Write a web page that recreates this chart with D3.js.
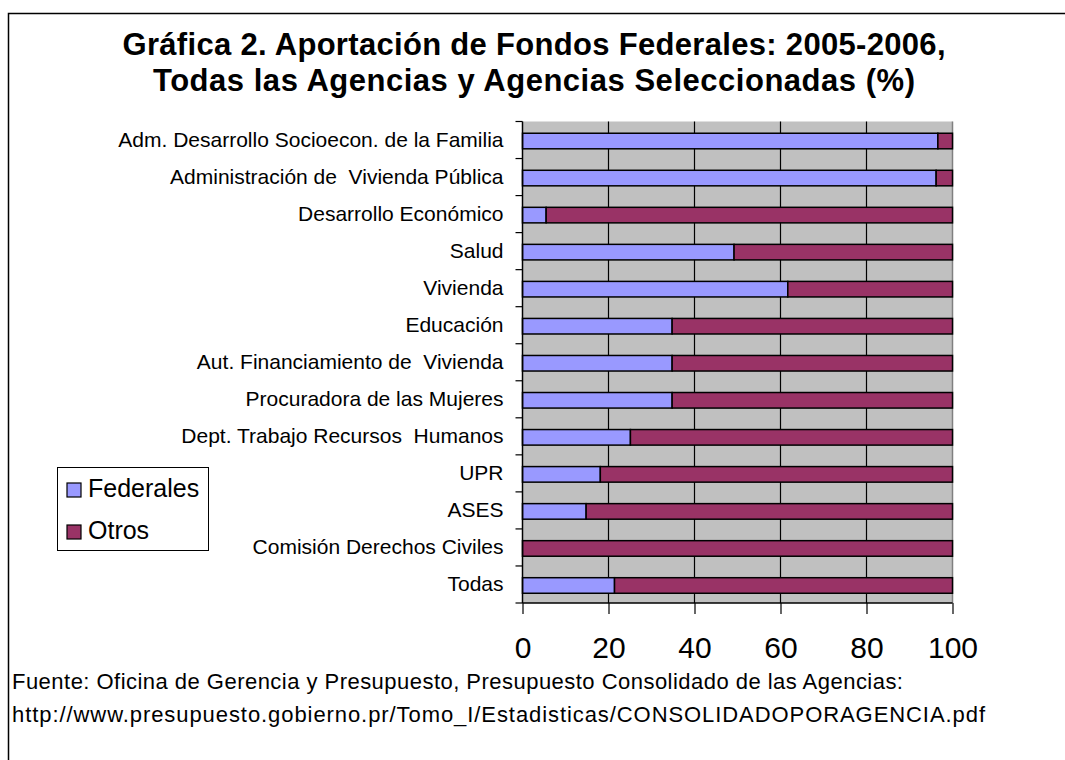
<!DOCTYPE html>
<html>
<head>
<meta charset="utf-8">
<script src="https://cdn.jsdelivr.net/npm/d3@7"></script>
<style>
  body { margin: 0; background: #fff; overflow: hidden; }
  svg { display: block; font-family: "Liberation Sans", Arial, sans-serif; }
  text { white-space: pre; }
  .domain { display: none; }
</style>
</head>
<body>
<div id="chart"></div>
<script>
// data (percent of budget)
var agencias = [
  "Adm. Desarrollo Socioecon. de la Familia",
  "Administración de  Vivienda Pública",
  "Desarrollo Económico",
  "Salud",
  "Vivienda",
  "Educación",
  "Aut. Financiamiento de  Vivienda",
  "Procuradora de las Mujeres",
  "Dept. Trabajo Recursos  Humanos",
  "UPR",
  "ASES",
  "Comisión Derechos Civiles",
  "Todas"
];
var federales = [96.6, 96.2, 5.5, 49.2, 61.7, 34.8, 34.8, 34.8, 25.1, 18.1, 14.8, 0, 21.4];
var otros = [3.4, 3.8, 94.5, 50.8, 38.3, 65.2, 65.2, 65.2, 74.9, 81.9, 85.2, 100, 78.6];
var xTicks = [0, 20, 40, 60, 80, 100];
var series = ["Federales", "Otros"];
var colors = ["#9999ff", "#993366"];

var width = 1065, height = 760;

// plot area
var plot = { left: 522.5, right: 952.5, top: 121.5, bottom: 603 };

var svg = d3.select("#chart").append("svg")
    .attr("width", width)
    .attr("height", height);

// outer frame: only top and left edges are inside the window
svg.append("path")
    .attr("d", `M8.5,${height} V13.5 H${width}`)
    .attr("fill", "none")
    .attr("stroke", "#000")
    .attr("stroke-width", 1.5);

// title
var title = ["Gráfica 2. Aportación de Fondos Federales: 2005-2006,",
             "Todas las Agencias y Agencias Seleccionadas (%)"];
var titleLen = [823, 762];
svg.selectAll("text.title")
    .data(title)
    .enter().append("text")
    .attr("class", "title")
    .attr("x", 534)
    .attr("y", (d, i) => 55 + i * 36)
    .attr("text-anchor", "middle")
    .attr("font-weight", "bold")
    .attr("font-size", "31px")
    .attr("textLength", (d, i) => titleLen[i])
    .attr("lengthAdjust", "spacing")
    .text(d => d);

// scales
var xScale = d3.scaleLinear()
    .domain([0, 100])
    .range([plot.left, plot.right]);

var yScale = d3.scaleBand()
    .domain(agencias)
    .range([plot.top, plot.bottom])
    .paddingInner(0.58)
    .paddingOuter(0.29);

var step = yScale.step();

// gray plot background
svg.append("rect")
    .attr("x", plot.left).attr("y", plot.top)
    .attr("width", plot.right - plot.left)
    .attr("height", plot.bottom - plot.top)
    .attr("fill", "#c0c0c0");

// right edge of plot area
svg.append("line")
    .attr("x1", plot.right).attr("x2", plot.right)
    .attr("y1", plot.top).attr("y2", plot.bottom)
    .attr("stroke", "#808080")
    .attr("stroke-width", 1.5);

// vertical gridlines
svg.selectAll("line.grid")
    .data(xTicks.slice(1, -1))
    .enter().append("line")
    .attr("class", "grid")
    .attr("x1", d => xScale(d)).attr("x2", d => xScale(d))
    .attr("y1", plot.top).attr("y2", plot.bottom)
    .attr("stroke", "#000")
    .attr("stroke-width", 1.2);

// stacked bars
var rows = agencias.map((a, i) => ({ agencia: a, Federales: federales[i], Otros: otros[i] }));
var stacked = d3.stack().keys(series)(rows);

svg.selectAll("g.serie")
    .data(stacked)
    .enter().append("g")
    .attr("class", "serie")
    .attr("fill", (d, i) => colors[i])
    .selectAll("rect")
    .data(d => d.filter(p => p[1] - p[0] > 0))
    .enter().append("rect")
    .attr("x", d => xScale(d[0]))
    .attr("y", d => yScale(d.data.agencia) + 1)
    .attr("width", d => xScale(d[1]) - xScale(d[0]))
    .attr("height", yScale.bandwidth())
    .attr("stroke", "#000")
    .attr("stroke-width", 1.5);

// y axis line + ticks at category boundaries
svg.append("line")
    .attr("x1", plot.left).attr("x2", plot.left)
    .attr("y1", plot.top).attr("y2", plot.bottom)
    .attr("stroke", "#000")
    .attr("stroke-width", 1.5);

svg.selectAll("line.ytick")
    .data(d3.range(agencias.length + 1))
    .enter().append("line")
    .attr("class", "ytick")
    .attr("x1", plot.left - 7).attr("x2", plot.left)
    .attr("y1", i => plot.top + i * step)
    .attr("y2", i => plot.top + i * step)
    .attr("stroke", "#000")
    .attr("stroke-width", 1.2);

// category labels
var yAxis = d3.axisLeft(yScale).tickSize(0).tickPadding(19);
svg.append("g")
    .attr("transform", `translate(${plot.left}, 0)`)
    .call(yAxis)
    .call(g => g.selectAll("text")
        .attr("font-size", "21px")
        .attr("font-family", "Liberation Sans, Arial, sans-serif")
        .attr("fill", "#000"));

// x axis
svg.append("line")
    .attr("x1", plot.left).attr("x2", plot.right)
    .attr("y1", plot.bottom).attr("y2", plot.bottom)
    .attr("stroke", "#000")
    .attr("stroke-width", 1.5);

var xAxis = d3.axisBottom(xScale).tickValues(xTicks).tickSize(11).tickPadding(23);
svg.append("g")
    .attr("transform", `translate(0, ${plot.bottom})`)
    .call(xAxis)
    .call(g => g.selectAll("line").attr("stroke", "#000").attr("stroke-width", 1.2))
    .call(g => g.selectAll("text")
        .attr("font-size", "30px")
        .attr("font-family", "Liberation Sans, Arial, sans-serif")
        .attr("fill", "#000"));

// legend
var legend = svg.append("g").attr("class", "legend");
legend.append("rect")
    .attr("x", 57.5).attr("y", 467.5)
    .attr("width", 151).attr("height", 83)
    .attr("fill", "#fff")
    .attr("stroke", "#000")
    .attr("stroke-width", 1);

var items = legend.selectAll("g.item")
    .data(series)
    .enter().append("g")
    .attr("class", "item")
    .attr("transform", (d, i) => `translate(67, ${483 + i * 42})`);

items.append("rect")
    .attr("width", 14).attr("height", 14)
    .attr("fill", (d, i) => colors[i])
    .attr("stroke", "#000")
    .attr("stroke-width", 1.2);

items.append("text")
    .attr("x", 21)
    .attr("y", 14)
    .attr("font-size", "25px")
    .text(d => d);

// source note
var fuente = ["Fuente: Oficina de Gerencia y Presupuesto, Presupuesto Consolidado de las Agencias:",
              "http://www.presupuesto.gobierno.pr/Tomo_I/Estadisticas/CONSOLIDADOPORAGENCIA.pdf"];
var fuenteLen = [891, 973];
svg.selectAll("text.fuente")
    .data(fuente)
    .enter().append("text")
    .attr("class", "fuente")
    .attr("x", 12)
    .attr("y", (d, i) => 689 + i * 33)
    .attr("font-size", "22px")
    .attr("textLength", (d, i) => fuenteLen[i])
    .attr("lengthAdjust", "spacing")
    .text(d => d);
</script>
</body>
</html>
